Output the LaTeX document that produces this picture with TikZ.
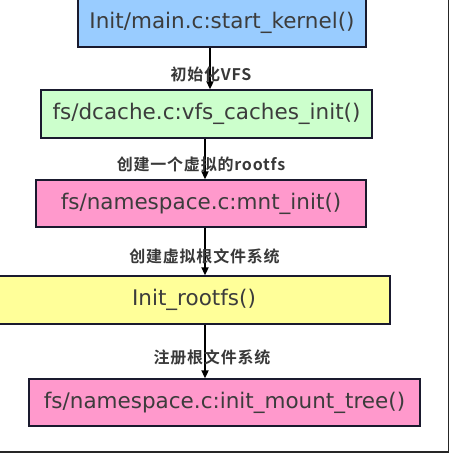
\documentclass[tikz,border=0pt]{standalone}
\usepackage{fontspec}
\setmainfont{DejaVu Sans}
\newfontfamily\cjk{Noto Sans CJK SC Bold}[LetterSpace=5]
\usetikzlibrary{arrows.meta}
\definecolor{bluefill}{HTML}{99CCFF}
\definecolor{greenfill}{HTML}{CCFFCC}
\definecolor{pinkfill}{HTML}{FF99CC}
\definecolor{yellowfill}{HTML}{FFFF99}
\definecolor{boxtext}{HTML}{3C3C3C}
\definecolor{labeltext}{HTML}{383838}
\definecolor{boxline}{HTML}{1A1A2E}
\tikzset{
  funcbox/.style={draw=boxline, line width=1.4pt, rectangle, inner sep=0pt,
    text=boxtext, font=\fontsize{21.5}{24}\selectfont},
  steplabel/.style={inner sep=0pt, text=labeltext,
    font=\fontsize{16}{18}\selectfont\cjk},
  flow/.style={line width=2pt, -{Triangle[length=8pt,width=7pt]}},
  framestyle/.style={line width=1.6pt, draw=black!85}
}
\begin{document}
\begin{tikzpicture}[x=1pt,y=-1pt]
\useasboundingbox (0,0) rectangle (450,454);
\clip (0,0) rectangle (450,454);
% frame
\coordinate (frtop) at (448.5,-5);
\coordinate (frcorner) at (448.5,452);
\coordinate (frleft) at (-5,452);
\draw[framestyle] (frtop) -- (frcorner) -- (frleft);
% boxes
\node[funcbox, fill=bluefill, minimum width=288pt, minimum height=49pt] (b1) at (222,22.5) {Init/main.c:start\_kernel()};
\node[funcbox, fill=greenfill, minimum width=331pt, minimum height=48pt] (b2) at (206.5,114) {fs/dcache.c:vfs\_caches\_init()};
\node[funcbox, fill=pinkfill, minimum width=330pt, minimum height=47pt] (b3) at (201,203.5) {fs/namespace.c:mnt\_init()};
\node[funcbox, fill=yellowfill, minimum width=392pt, minimum height=48pt] (b4) at (194,300) {Init\_rootfs()};
\node[funcbox, fill=pinkfill, minimum width=391pt, minimum height=47pt] (b5) at (224.5,402.5) {fs/namespace.c:init\_mount\_tree()};
% arrow x positions
\coordinate (ax1) at (210,0);
\coordinate (ax2) at (205,0);
% connectors
\draw[flow] (b1.south -| ax1) -- (b2.north -| ax1);
\draw[flow] (b2.south -| ax2) -- (b3.north -| ax2);
\draw[flow] (b3.south -| ax2) -- (b4.north -| ax2);
\draw[flow] (b4.south -| ax2) -- (b5.north -| ax2);
% labels
\node[steplabel] (l1) at (211,74) {初始化VFS};
\node[steplabel] (l2) at (201,164) {创建一个虚拟的rootfs};
\node[steplabel] (l3) at (204.5,256) {创建虚拟根文件系统};
\node[steplabel] (l4) at (212,357) {注册根文件系统};
\end{tikzpicture}
\end{document}
